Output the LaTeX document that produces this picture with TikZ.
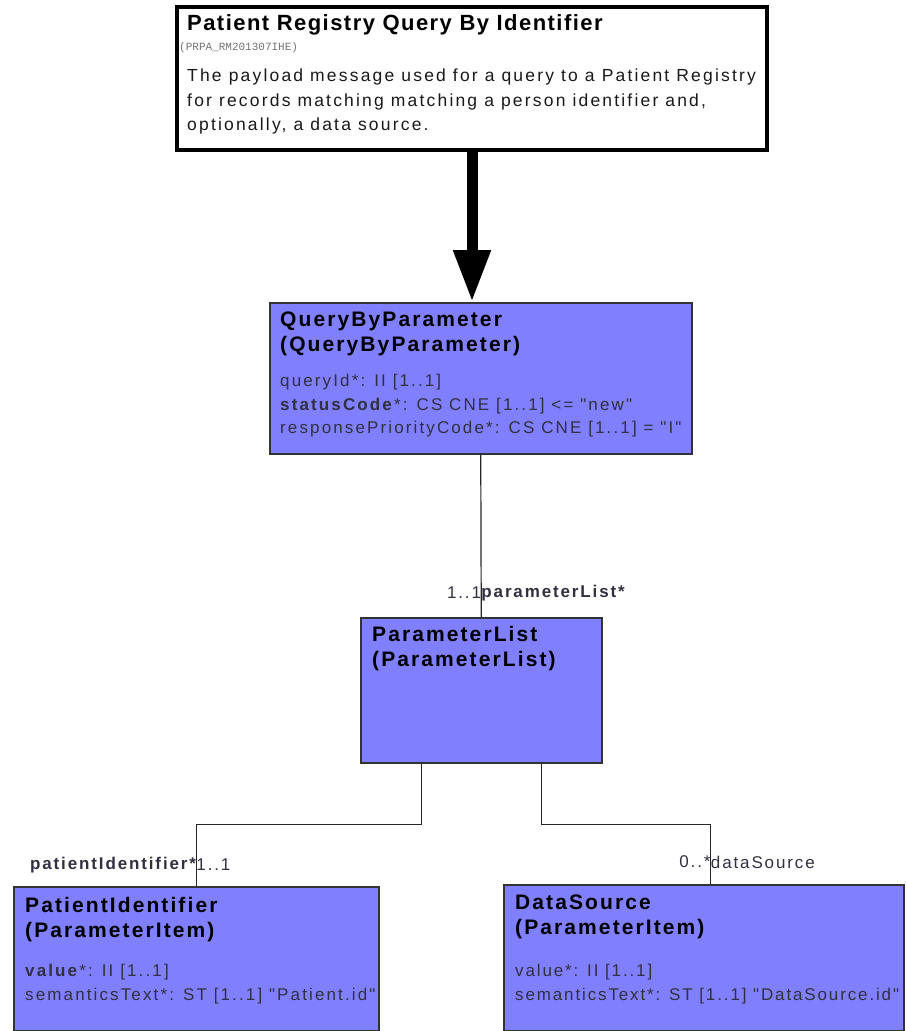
\documentclass[tikz,border=0pt]{standalone}
\usepackage{fontspec}
\setmainfont{Liberation Sans}
\newfontfamily\monofam{Liberation Mono}
\newfontfamily\namefam[LetterSpace=10]{Liberation Sans}
\newfontfamily\attrfam[LetterSpace=12.5]{Liberation Sans}
\newfontfamily\rolefam[LetterSpace=11]{Liberation Sans}
\usetikzlibrary{positioning}
\usetikzlibrary{arrows.meta}
\definecolor{itemblue}{RGB}{128,128,255}
\definecolor{attrgrey}{RGB}{48,48,64}

\begin{document}
\begin{tikzpicture}[x=1pt,y=-1pt]
          \tikzstyle{hbox} = [draw=black, line width=4pt, fill=white, anchor=north west, inner sep=0pt]
          \tikzstyle{cbox} = [draw=black!80, line width=1.5pt, fill=itemblue, anchor=north west, inner sep=0pt]
          \tikzstyle{cname} = [inner sep=0pt, align=left, font=\namefam\bfseries\fontsize{21}{25}\selectfont]
          \tikzstyle{attr} = [inner sep=0pt, align=left, text=attrgrey, font=\attrfam\fontsize{17}{23.5}\selectfont]
          \tikzstyle{role} = [inner sep=0pt, text=attrgrey, font=\rolefam\fontsize{17}{20}\selectfont]
          \tikzstyle{link} = [line width=1.2pt, draw=black!85]
          \useasboundingbox (0,0) rectangle (906,1031);

          % header box
          \node[hbox, minimum width=590pt, minimum height=143pt] (msg) at (175,5) {};
          \node[cname, font=\bfseries\fontsize{22}{24}\selectfont\addfontfeature{LetterSpace=6.6}, below right = 9pt and 12pt of msg.north west] (msgname) {Patient Registry Query By Identifier};
          \node[inner sep=0pt, text=black!55, font=\monofam\fontsize{11}{12}\selectfont, below = 7pt of msgname.south west, anchor=north west, xshift=-8pt] (msgcode) {(PRPA\_RM201307IHE)};
          \node[attr, text=black!90, font=\fontsize{17.5}{24.5}\selectfont\addfontfeature{LetterSpace=12.5}, below = 16pt of msgcode.south west, anchor=north west, xshift=8pt] (msgdesc) {The payload message used for a query to a Patient Registry\\for records matching matching a person identifier and,\\optionally, a data source.};

          % classes
          \node[cbox, minimum width=422pt, minimum height=151pt] (qbp) at (269,302) {};
          \node[cname, below right = 10pt and 11pt of qbp.north west] (qbpname) {QueryByParameter\\(QueryByParameter)};
          \node[attr, below = 18pt of qbpname.south west, anchor=north west] (qbpattr) {queryId*: II [1..1]\\\textbf{statusCode}*: CS CNE [1..1] <= "new"\\responsePriorityCode*: CS CNE [1..1] = "I"};

          \node[cbox, minimum width=241pt, minimum height=145pt] (plist) at (360,617) {};
          \node[cname, below right = 9pt and 12pt of plist.north west] (plistname) {ParameterList\\(ParameterList)};

          \node[cbox, minimum width=365pt, minimum height=144pt] (pid) at (13,886) {};
          \node[cname, below right = 11pt and 12pt of pid.north west] (pidname) {PatientIdentifier\\(ParameterItem)};
          \node[attr, below = 22pt of pidname.south west, anchor=north west] (pidattr) {\textbf{value}*: II [1..1]\\semanticsText*: ST [1..1] "Patient.id"};

          \node[cbox, minimum width=400pt, minimum height=146pt] (ds) at (503,884) {};
          \node[cname, below right = 11pt and 12pt of ds.north west] (dsname) {DataSource\\(ParameterItem)};
          \node[attr, font=\attrfam\fontsize{17}{23.5}\selectfont\addfontfeature{LetterSpace=11}, below = 25pt of dsname.south west, anchor=north west] (dsattr) {value*: II [1..1]\\semanticsText*: ST [1..1] "DataSource.id"};

          % connectors
          \draw[line width=11pt, -{Triangle[width=35pt,length=52pt]}] (msg.south) -- (msg.south |- qbp.north);
          \draw[link] (qbp.south) -- (plist.north);
          \draw[link] ([xshift=-60pt]plist.south) -- ++(0,61) -| (pid.north);
          \draw[link] ([xshift=60pt]plist.south) -- ++(0,61) -| ([xshift=7pt]ds.north);

          % role labels
          \node[role, anchor=east] (plmult) at ([yshift=24pt]plist.north) {1..1};
          \node[role, anchor=west, font=\rolefam\bfseries\fontsize{17}{20}\selectfont] (plrole) at (plmult.east) {parameterList*};
          \node[role, anchor=east, font=\rolefam\bfseries\fontsize{17}{20}\selectfont] (pidrole) at ([yshift=21pt]pid.north) {patientIdentifier*};
          \node[role, anchor=west] (pidmult) at (pidrole.east) {1..1};
          \node[role, anchor=east] (dsmult) at ([xshift=7pt,yshift=22pt]ds.north) {0..*};
          \node[role, anchor=west] (dsrole) at (dsmult.east) {dataSource};
\end{tikzpicture}
\end{document}
